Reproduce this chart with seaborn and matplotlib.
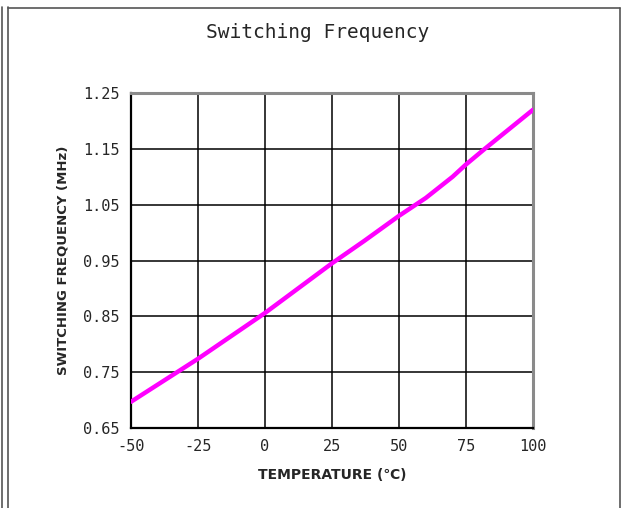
import matplotlib
matplotlib.use("Agg")
import matplotlib.pyplot as plt
import seaborn as sns
import pandas as pd
from matplotlib.lines import Line2D

# values
temperature = [-50, -25, 0, 25, 37, 50, 60, 70, 75, 82, 100]
frequency = [0.697, 0.774, 0.856, 0.945, 0.985, 1.030, 1.062, 1.100, 1.122, 1.150, 1.220]
x_ticks = [-50, -25, 0, 25, 50, 75, 100]
y_ticks = [0.65, 0.75, 0.85, 0.95, 1.05, 1.15, 1.25]

df = pd.DataFrame({"temp": temperature, "freq": frequency})

sns.set_style("white")
mono = ["DejaVu Sans Mono", "DejaVu Sans"]
label_font = ["DejaVu Sans", "Noto Sans CJK JP"]

fig = plt.figure(figsize=(6.23, 5.08), dpi=100)
ax = fig.add_axes([131 / 623, 1 - 428 / 508, 402 / 623, 335 / 508])

sns.lineplot(data=df, x="temp", y="freq", color="#ff00ff", linewidth=3.2, ax=ax, zorder=5)

ax.set_xlim(-50, 100)
ax.set_ylim(0.65, 1.25)
ax.set_xticks(x_ticks)
ax.set_yticks(y_ticks)
ax.set_xticklabels([str(t) for t in x_ticks], family=mono, fontsize=11)
ax.set_yticklabels([f"{t:.2f}" for t in y_ticks], family=mono, fontsize=11)
ax.tick_params(length=0, pad=8)
ax.grid(True, color="black", linewidth=1.1)

for side in ["left", "bottom"]:
    ax.spines[side].set_color("black")
    ax.spines[side].set_linewidth(1.6)
for side in ["top", "right"]:
    ax.spines[side].set_color("#8a8a8a")
    ax.spines[side].set_linewidth(2.2)
    ax.spines[side].set_visible(True)

ax.set_xlabel("TEMPERATURE (℃)", family=label_font, fontsize=10, fontweight="semibold", labelpad=10)
ax.set_ylabel("SWITCHING FREQUENCY (MHz)", family=label_font, fontsize=9.5, fontweight="semibold", labelpad=10)
fig.text(318 / 623, 1 - 32 / 508, "Switching Frequency", family=mono, fontsize=14,
         ha="center", va="center")

# outer frame
frame_color = "#555555"
for x0 in [2.5, 7.5]:
    fig.add_artist(Line2D([x0 / 623, x0 / 623], [0, 1 - 7 / 508], color=frame_color,
                          linewidth=1.2, transform=fig.transFigure))
fig.add_artist(Line2D([7.5 / 623, 619.5 / 623], [1 - 7.5 / 508, 1 - 7.5 / 508], color=frame_color,
                      linewidth=1.2, transform=fig.transFigure))
fig.add_artist(Line2D([619.5 / 623, 619.5 / 623], [0, 1 - 7.5 / 508], color=frame_color,
                      linewidth=1.2, transform=fig.transFigure))

fig.savefig("out.png", dpi=100)
